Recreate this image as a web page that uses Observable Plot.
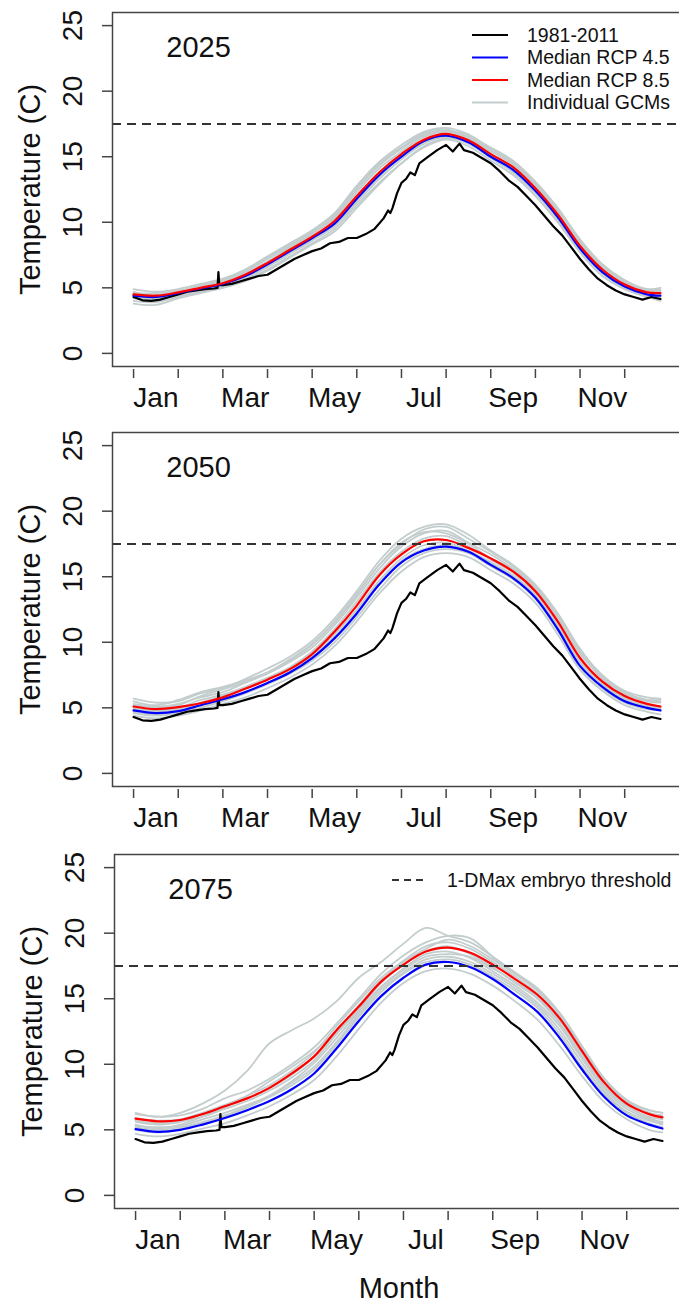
<!DOCTYPE html>
<html>
<head>
<meta charset="utf-8">
<script src="https://cdn.jsdelivr.net/npm/d3@7"></script>
<script src="https://cdn.jsdelivr.net/npm/@observablehq/plot@0.6"></script>
<style>
  html, body { margin: 0; padding: 0; background: #fff; width: 679px; height: 1306px; overflow: hidden; }
  .pan { position: absolute; left: 0; }
  svg { max-width: none !important; font-family: "Liberation Sans", Arial, sans-serif !important; }
  .legend { position: absolute; left: 0; top: 0; }
</style>
</head>
<body>
<div id="p1" class="pan" style="top:0px"></div>
<div id="p2" class="pan" style="top:420px"></div>
<div id="p3" class="pan" style="top:842px"></div>
<svg id="leg" class="legend" width="679" height="1306"></svg>
<script>
// ---------- data ----------
const monthTicks = [0,1,2,3,4,5,6,7,8,9,10,11];            // month starts (months since Jan 1)
const monthLabelPos = [0.5,2.5,4.5,6.5,8.5,10.5];
const monthLabels = ["Jan","Mar","May","Jul","Sep","Nov"];
const yTicks = [0,5,10,15,20,25];
const threshold = 17.5;
const gridM = [0,0.5,1,1.5,2,2.5,3,3.5,4,4.5,5,5.5,6,6.5,7,7.5,8,8.5,9,9.5,10,10.5,11,11.5,11.8];

// 1981-2011 observed daily climatology (same in every panel)
const blackM = [0,0.2,0.4,0.6,0.8,1.0,1.2,1.4,1.6,1.8,1.88,1.9,1.92,2.0,2.2,2.4,2.6,2.8,3.0,3.2,3.4,3.6,3.8,4.0,4.2,4.4,4.6,4.8,5.0,5.2,5.4,5.6,5.7,5.75,5.8,5.9,6.0,6.1,6.2,6.3,6.4,6.6,6.8,7.0,7.15,7.3,7.4,7.6,7.8,8.0,8.2,8.4,8.6,8.8,9.0,9.2,9.4,9.6,9.8,10.0,10.2,10.4,10.6,10.8,11.0,11.2,11.4,11.6,11.8];
const blackT = [4.3,4.05,4.0,4.1,4.3,4.5,4.7,4.8,4.9,4.95,5.0,6.2,5.2,5.2,5.3,5.5,5.7,5.9,6.0,6.4,6.8,7.2,7.5,7.8,8.0,8.4,8.5,8.8,8.8,9.1,9.5,10.3,10.9,10.7,11.1,12.2,13.0,13.3,13.8,13.6,14.5,15.0,15.5,15.9,15.4,16.0,15.5,15.3,14.9,14.5,13.9,13.2,12.7,12.0,11.3,10.5,9.7,9.0,8.1,7.2,6.4,5.7,5.2,4.8,4.5,4.3,4.1,4.3,4.15];

// 2025
const blue2025 = [4.4,4.3,4.6,4.95,5.3,5.9,6.8,7.8,8.8,9.9,11.8,13.6,15.0,16.2,16.6,16.1,15.0,14.0,12.4,10.4,8.0,6.2,5.1,4.5,4.4];
const red2025  = [4.5,4.4,4.65,5.0,5.35,6.0,6.9,7.9,8.9,10.1,12.0,13.8,15.2,16.3,16.75,16.25,15.2,14.2,12.6,10.6,8.2,6.4,5.25,4.65,4.6];
const gcm2025 = [
  [4.9,4.7,4.9,5.3,5.7,6.4,7.4,8.4,9.4,10.7,12.8,14.6,15.9,16.9,17.2,16.7,15.6,14.6,13.0,11.0,8.6,6.7,5.5,4.9,5.0],
  [4.0,3.9,4.3,4.7,5.0,5.6,6.4,7.4,8.4,9.5,11.3,13.0,14.5,15.7,16.3,15.8,14.7,13.6,12.0,10.0,7.7,5.9,4.9,4.3,4.0],
  [4.6,4.6,4.8,5.1,5.5,6.2,7.2,8.2,9.2,10.4,12.5,14.3,15.6,16.6,17.0,16.4,15.4,14.4,12.8,10.8,8.4,6.5,5.4,4.8,4.8],
  [4.2,4.1,4.4,4.8,5.1,5.7,6.6,7.6,8.6,9.7,11.5,13.3,14.8,16.0,16.5,16.0,14.9,13.8,12.2,10.2,7.9,6.1,5.0,4.4,4.3],
  [4.5,4.5,4.7,5.0,5.4,6.1,7.0,8.0,9.1,10.3,12.3,14.1,15.4,16.5,16.9,16.5,15.5,14.5,12.9,10.9,8.5,6.6,5.4,4.7,4.7],
  [4.3,4.2,4.5,4.9,5.2,5.8,6.7,7.7,8.7,9.8,11.7,13.5,15.0,16.1,16.6,16.1,15.0,14.0,12.4,10.3,8.0,6.2,5.1,4.5,4.4],
  [4.7,4.4,4.7,5.2,5.6,6.3,7.3,8.3,9.3,10.6,12.7,14.4,15.7,16.8,17.1,16.3,15.2,14.2,12.6,10.6,8.2,6.4,5.3,4.7,4.6],
  [4.4,4.3,4.6,5.0,5.4,6.0,7.0,8.1,9.1,10.5,12.6,14.5,15.7,16.7,17.0,16.6,15.7,14.7,13.1,11.1,8.7,6.8,5.6,4.9,4.9],
  [3.8,3.7,4.2,4.6,5.0,5.5,6.3,7.3,8.3,9.3,11.1,12.9,14.5,15.8,16.4,16.0,15.1,14.1,12.5,10.4,8.0,6.1,5.0,4.3,4.1]
];

// 2050
const blue2050 = [4.8,4.6,4.75,5.2,5.65,6.2,6.9,7.7,8.8,10.3,12.2,14.4,16.1,17.0,17.3,16.9,15.9,14.9,13.4,11.0,8.2,6.6,5.5,5.0,4.8];
const red2050  = [5.1,4.9,5.05,5.35,5.8,6.45,7.15,7.95,9.1,10.8,12.8,15.1,16.7,17.7,17.8,17.2,16.4,15.4,13.9,11.6,8.8,7.0,5.9,5.3,5.1];
const gcm2050 = [
  [5.7,5.4,5.5,6.1,6.5,7.2,8.0,8.9,10.1,11.8,13.9,16.2,17.9,18.8,19.0,18.2,17.0,15.9,14.4,12.2,9.4,7.5,6.3,5.8,5.7],
  [5.3,5.1,5.3,5.8,6.2,6.9,7.6,8.5,9.6,11.3,13.4,15.6,17.3,18.3,18.5,17.6,16.7,15.6,14.1,11.9,9.1,7.3,6.1,5.5,5.4],
  [4.4,4.2,4.4,4.8,5.3,5.8,6.5,7.3,8.3,9.7,11.6,13.7,15.4,16.5,16.8,16.5,15.5,14.5,13.0,10.6,7.9,6.3,5.2,4.7,4.5],
  [4.7,4.5,4.7,5.0,5.5,6.1,6.8,7.6,8.6,10.0,11.9,14.0,15.8,16.8,17.1,16.8,15.8,14.8,13.3,10.9,8.1,6.5,5.4,4.9,4.8],
  [5.0,4.8,5.0,5.6,6.0,6.6,7.3,8.1,9.3,11.0,13.1,15.3,16.9,17.9,18.1,17.3,16.3,15.3,13.8,11.5,8.7,6.9,5.8,5.2,5.1],
  [4.9,4.7,4.9,5.4,5.9,6.5,7.2,8.0,9.0,10.6,12.5,14.7,16.4,17.4,17.6,17.0,16.1,15.1,13.6,11.3,8.5,6.8,5.7,5.1,5.0],
  [5.5,5.2,5.6,6.2,6.6,7.1,7.7,8.6,9.8,11.5,13.6,15.9,17.6,18.4,18.3,17.5,16.4,15.6,14.2,12.1,9.3,7.2,6.0,5.6,5.6],
  [5.2,5.0,5.2,5.9,6.4,7.0,7.7,8.7,9.9,11.6,13.7,15.9,17.5,18.6,18.8,17.9,16.9,15.8,14.3,12.2,9.5,7.4,6.2,5.6,5.5],
  [4.6,4.4,4.6,5.1,5.6,6.2,6.9,7.8,8.9,10.4,12.3,14.5,16.2,17.1,17.4,16.9,16.0,15.0,13.5,11.2,8.5,6.8,5.6,5.0,4.9]
];

// 2075
const blue2075 = [5.05,4.85,5.0,5.4,5.9,6.5,7.2,8.1,9.3,11.2,13.3,15.2,16.6,17.6,17.8,17.4,16.5,15.3,14.0,12.0,9.6,7.5,6.1,5.4,5.1];
const red2075  = [5.85,5.65,5.75,6.2,6.8,7.4,8.2,9.3,10.6,12.6,14.4,16.3,17.6,18.6,18.9,18.5,17.6,16.5,15.3,13.5,11.0,8.6,7.0,6.2,5.95];
const gcm2075 = [
  [6.3,6.0,6.3,7.0,8.0,9.5,11.6,12.6,13.5,14.8,16.6,17.8,19.2,20.4,19.8,19.3,18.2,17.0,15.8,13.9,11.3,8.9,7.2,6.5,6.3],
  [4.7,4.5,4.7,5.1,5.5,6.1,6.8,7.7,8.8,10.6,12.7,14.7,16.2,17.1,17.3,16.9,16.0,14.8,13.4,11.4,9.1,7.1,5.8,5.0,4.8],
  [5.3,5.2,5.3,5.8,6.3,6.9,7.6,8.6,9.8,11.7,13.8,15.7,17.0,18.0,18.2,17.8,16.9,15.8,14.5,12.6,10.1,7.9,6.4,5.7,5.4],
  [5.6,5.4,5.6,6.0,6.6,7.2,8.0,9.0,10.3,12.3,14.2,16.2,17.6,18.6,19.0,18.4,17.4,16.2,15.0,13.1,10.6,8.3,6.8,6.0,5.8],
  [6.2,6.0,6.1,6.6,7.4,8.0,8.9,10.0,11.3,13.1,15.0,16.9,18.3,19.3,19.8,19.6,18.2,16.9,15.7,13.9,11.4,8.9,7.3,6.5,6.3],
  [5.0,4.8,5.1,5.5,6.0,6.7,7.5,8.4,9.6,11.5,13.6,15.5,16.9,17.8,18.0,17.6,16.7,15.6,14.3,12.3,9.8,7.7,6.3,5.5,5.2],
  [5.9,5.7,5.8,6.3,6.9,7.6,8.4,9.5,10.9,12.9,14.8,16.6,17.9,19.0,19.3,18.8,17.8,16.7,15.4,13.6,11.1,8.7,7.1,6.3,6.0],
  [5.4,5.1,5.4,6.0,6.7,7.6,8.7,9.8,11.0,12.5,14.1,15.9,17.3,18.4,18.6,18.1,17.1,16.0,14.7,12.9,10.4,8.1,6.6,5.8,5.5],
  [5.7,5.5,5.7,6.2,6.8,7.4,8.2,9.2,10.6,12.5,14.5,16.4,17.8,18.8,19.5,19.0,18.0,16.9,15.6,13.8,11.2,8.8,7.2,6.3,6.1],
  [5.2,5.0,5.2,5.6,6.1,6.8,7.6,8.7,10.1,12.0,14.0,15.9,17.2,18.2,18.4,18.2,17.3,16.3,15.1,13.3,10.8,8.4,6.9,5.9,5.6]
];

const legendLabels = ["1981-2011","Median RCP 4.5","Median RCP 8.5","Individual GCMs"];
const legendColors = ["#000000","#0000ff","#ff0000","#c3cdcd"];
const thresholdLabel = "1-DMax embryo threshold";

// ---------- drawing ----------
const C_GCM = "#c3cdcd", C_AX = "#444";
const xMin = d3.min(gridM), xMax = d3.max(gridM);
const xPad = (xMax - xMin) * 0.04;
const yPad = (d3.max(yTicks) - d3.min(yTicks)) * 0.04;
const T = {fill: "#111", textAnchor: "middle", lineAnchor: "middle"};

function panel(el, {year, blue, red, gcms, marginLeft, height, marginBottom, xTitle}) {
  const gcmRows = gcms.flatMap((s, i) => s.map((t, j) => ({id: i, m: gridM[j], t})));
  const blackRows = blackM.map((m, i) => ({m, t: blackT[i]}));
  const blueRows = gridM.map((m, i) => ({m, t: blue[i]}));
  const redRows = gridM.map((m, i) => ({m, t: red[i]}));
  const marks = [
    Plot.line(gcmRows, {x: "m", y: "t", z: "id", stroke: C_GCM, strokeWidth: 1.8, curve: "catmull-rom"}),
    Plot.line(blackRows, {x: "m", y: "t", stroke: "#000", strokeWidth: 2.2}),
    Plot.line(blueRows, {x: "m", y: "t", stroke: "#0000ff", strokeWidth: 2.2, curve: "catmull-rom"}),
    Plot.line(redRows, {x: "m", y: "t", stroke: "#ff0000", strokeWidth: 2.2, curve: "catmull-rom"}),
    Plot.ruleY([threshold], {stroke: "#333", strokeWidth: 2, strokeDasharray: "9,6"}),
    Plot.frame({stroke: C_AX, strokeWidth: 1.5}),
    Plot.axisY(yTicks, {anchor: "left", label: null, tickSize: 10, tickFormat: () => "", stroke: C_AX, strokeWidth: 1.5}),
    Plot.axisX(monthTicks, {anchor: "bottom", label: null, tickSize: 9, tickFormat: () => "", stroke: C_AX, strokeWidth: 1.5, dy: 3}),
    Plot.text(yTicks, {...T, y: d => d, frameAnchor: "left", dx: -39, rotate: -90, text: d => String(d), fontSize: 28}),
    Plot.text(monthLabelPos, {...T, x: d => d, frameAnchor: "bottom", dy: 32, text: (d, i) => monthLabels[i], fontSize: 28}),
    Plot.text(["Temperature (C)"], {...T, frameAnchor: "left", dx: -82, rotate: -90, text: d => d, fontSize: 29}),
    Plot.text([year], {...T, frameAnchor: "top-left", dx: 86, dy: 35, text: d => d, fontSize: 29})
  ];
  if (xTitle) marks.push(Plot.text([xTitle], {...T, frameAnchor: "bottom", dy: 80, text: d => d, fontSize: 29}));
  const svg = Plot.plot({
    width: marginLeft + 569, height, marginTop: 12, marginBottom, marginLeft, marginRight: 0,
    x: {domain: [xMin - xPad, xMax + xPad], axis: null},
    y: {domain: [d3.min(yTicks) - yPad, d3.max(yTicks) + yPad], axis: null},
    marks
  });
  document.getElementById(el).appendChild(svg);
}

panel("p1", {year: "2025", blue: blue2025, red: red2025, gcms: gcm2025, marginLeft: 112, height: 420, marginBottom: 54});
panel("p2", {year: "2050", blue: blue2050, red: red2050, gcms: gcm2050, marginLeft: 112, height: 420, marginBottom: 54});
panel("p3", {year: "2075", blue: blue2075, red: red2075, gcms: gcm2075, marginLeft: 114, height: 464, marginBottom: 98, xTitle: "Month"});

// legends
const leg = d3.select("#leg");
legendLabels.forEach((lab, i) => {
  const y = 35 + i * 22.5;
  leg.append("line").attr("x1", 472).attr("x2", 508).attr("y1", y).attr("y2", y)
    .attr("stroke", legendColors[i]).attr("stroke-width", 2);
  leg.append("text").attr("x", 527).attr("y", y).attr("dy", "0.35em")
    .attr("font-size", 19.5).attr("fill", "#111").text(lab);
});
leg.append("line").attr("x1", 392).attr("x2", 424).attr("y1", 880).attr("y2", 880)
  .attr("stroke", "#333").attr("stroke-width", 2).attr("stroke-dasharray", "7,5");
leg.append("text").attr("x", 447).attr("y", 880).attr("dy", "0.35em")
  .attr("font-size", 19.5).attr("fill", "#111").text(thresholdLabel);
</script>
</body>
</html>
